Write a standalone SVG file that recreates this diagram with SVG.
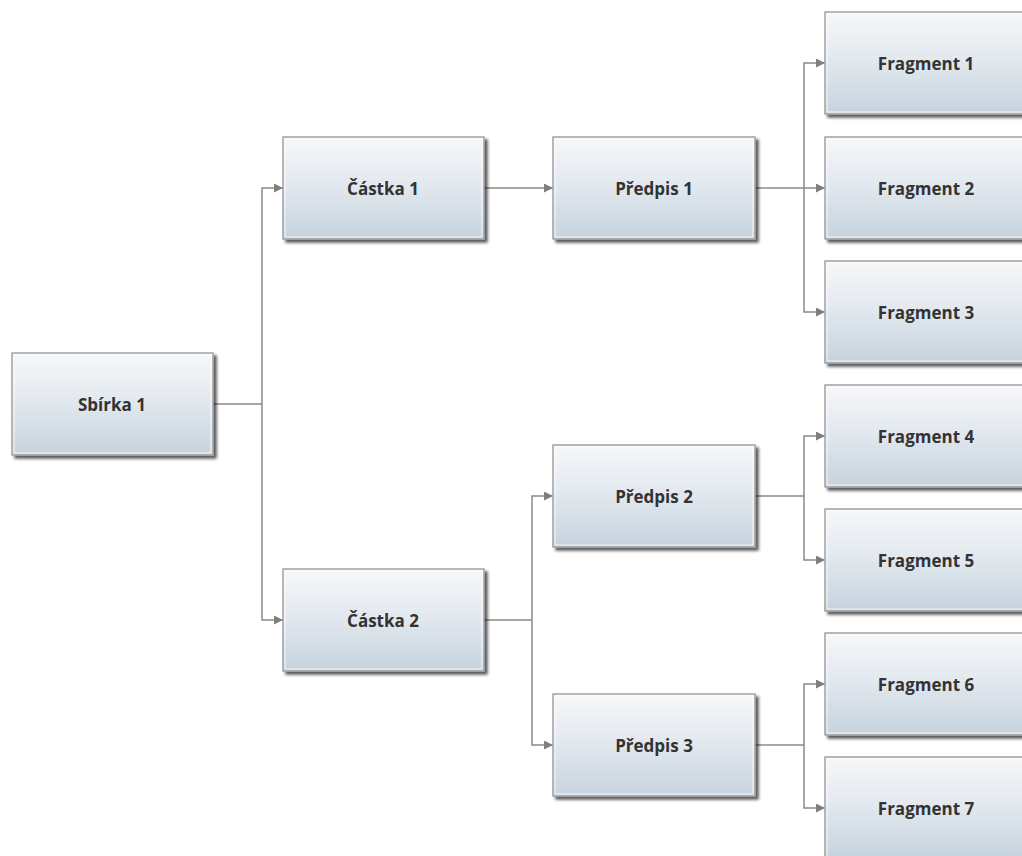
<svg xmlns="http://www.w3.org/2000/svg" width="1022" height="856" viewBox="0 0 1022 856">
  <defs>
    <linearGradient id="boxFill" x1="0" y1="0" x2="0" y2="1">
      <stop offset="0" stop-color="#f6f7f9"/>
      <stop offset="0.45" stop-color="#e3e9ef"/>
      <stop offset="1" stop-color="#c6d3de"/>
    </linearGradient>
    <filter id="shadow" x="-10%" y="-10%" width="125%" height="130%">
      <feGaussianBlur in="SourceAlpha" stdDeviation="1.6"/>
      <feOffset dx="3" dy="3" result="b"/>
      <feComponentTransfer><feFuncA type="linear" slope="0.65"/></feComponentTransfer>
      <feMerge><feMergeNode/><feMergeNode in="SourceGraphic"/></feMerge>
    </filter>
    <marker id="arrow" viewBox="0 0 10 10" refX="10" refY="5" markerWidth="9" markerHeight="9" markerUnits="userSpaceOnUse" orient="auto">
      <path d="M0,0 L10,5 L0,10 z" fill="#7f7f7f"/>
    </marker>
  </defs>
  <style>
    .box { fill: url(#boxFill); stroke: #a3a3a3; stroke-width: 1.5; filter: url(#shadow); }
    .inner { fill: none; stroke: #ffffff; stroke-opacity: 0.8; stroke-width: 1; }
    .label { font-family: "Open Sans", "DejaVu Sans", sans-serif; font-weight: bold; font-size: 17px; fill: #333333; text-anchor: middle; dominant-baseline: central; }
    .link { fill: none; stroke: #8a8a8a; stroke-width: 1.5; }
    .arr { marker-end: url(#arrow); }
  </style>

  <g id="connectors">
    <!-- Sbírka 1 to both Částka nodes -->
    <path class="link" d="M213,404 H262"/>
    <path class="link arr" d="M262,404 V188 H283"/>
    <path class="link arr" d="M262,404 V620 H283"/>
    <!-- Částka 1 to Předpis 1 -->
    <path class="link arr" d="M484,188 H553"/>
    <!-- Částka 2 to Předpis 2 and 3 -->
    <path class="link" d="M484,620 H532"/>
    <path class="link arr" d="M532,620 V496 H553"/>
    <path class="link arr" d="M532,620 V745 H553"/>
    <!-- Předpis 1 to Fragments 1-3 -->
    <path class="link" d="M755,188 H804"/>
    <path class="link arr" d="M804,188 V63 H825"/>
    <path class="link arr" d="M804,188 H825"/>
    <path class="link arr" d="M804,188 V312 H825"/>
    <!-- Předpis 2 to Fragments 4-5 -->
    <path class="link" d="M755,496 H804"/>
    <path class="link arr" d="M804,496 V436 H825"/>
    <path class="link arr" d="M804,496 V560 H825"/>
    <!-- Předpis 3 to Fragments 6-7 -->
    <path class="link" d="M755,745 H804"/>
    <path class="link arr" d="M804,745 V684 H825"/>
    <path class="link arr" d="M804,745 V808 H825"/>
  </g>

  <g id="sbirka1">
    <rect class="box" x="12" y="353" width="201" height="102"/>
    <rect class="inner" x="14" y="355" width="197" height="98"/>
    <text class="label" x="112" y="404">Sbírka 1</text>
  </g>
  <g id="castka1">
    <rect class="box" x="283" y="137" width="201" height="102"/>
    <rect class="inner" x="285" y="139" width="197" height="98"/>
    <text class="label" x="383" y="188">Částka 1</text>
  </g>
  <g id="castka2">
    <rect class="box" x="283" y="569" width="201" height="102"/>
    <rect class="inner" x="285" y="571" width="197" height="98"/>
    <text class="label" x="383" y="620">Částka 2</text>
  </g>
  <g id="predpis1">
    <rect class="box" x="553" y="137" width="202" height="102"/>
    <rect class="inner" x="555" y="139" width="198" height="98"/>
    <text class="label" x="654" y="188">Předpis 1</text>
  </g>
  <g id="predpis2">
    <rect class="box" x="553" y="445" width="202" height="102"/>
    <rect class="inner" x="555" y="447" width="198" height="98"/>
    <text class="label" x="654" y="496">Předpis 2</text>
  </g>
  <g id="predpis3">
    <rect class="box" x="553" y="694" width="202" height="102"/>
    <rect class="inner" x="555" y="696" width="198" height="98"/>
    <text class="label" x="654" y="745">Předpis 3</text>
  </g>
  <g id="fragment1">
    <rect class="box" x="825" y="12" width="202" height="102"/>
    <rect class="inner" x="827" y="14" width="198" height="98"/>
    <text class="label" x="926" y="63">Fragment 1</text>
  </g>
  <g id="fragment2">
    <rect class="box" x="825" y="137" width="202" height="102"/>
    <rect class="inner" x="827" y="139" width="198" height="98"/>
    <text class="label" x="926" y="188">Fragment 2</text>
  </g>
  <g id="fragment3">
    <rect class="box" x="825" y="261" width="202" height="102"/>
    <rect class="inner" x="827" y="263" width="198" height="98"/>
    <text class="label" x="926" y="312">Fragment 3</text>
  </g>
  <g id="fragment4">
    <rect class="box" x="825" y="385" width="202" height="102"/>
    <rect class="inner" x="827" y="387" width="198" height="98"/>
    <text class="label" x="926" y="436">Fragment 4</text>
  </g>
  <g id="fragment5">
    <rect class="box" x="825" y="509" width="202" height="102"/>
    <rect class="inner" x="827" y="511" width="198" height="98"/>
    <text class="label" x="926" y="560">Fragment 5</text>
  </g>
  <g id="fragment6">
    <rect class="box" x="825" y="633" width="202" height="102"/>
    <rect class="inner" x="827" y="635" width="198" height="98"/>
    <text class="label" x="926" y="684">Fragment 6</text>
  </g>
  <g id="fragment7">
    <rect class="box" x="825" y="757" width="202" height="102"/>
    <rect class="inner" x="827" y="759" width="198" height="98"/>
    <text class="label" x="926" y="808">Fragment 7</text>
  </g>
</svg>
